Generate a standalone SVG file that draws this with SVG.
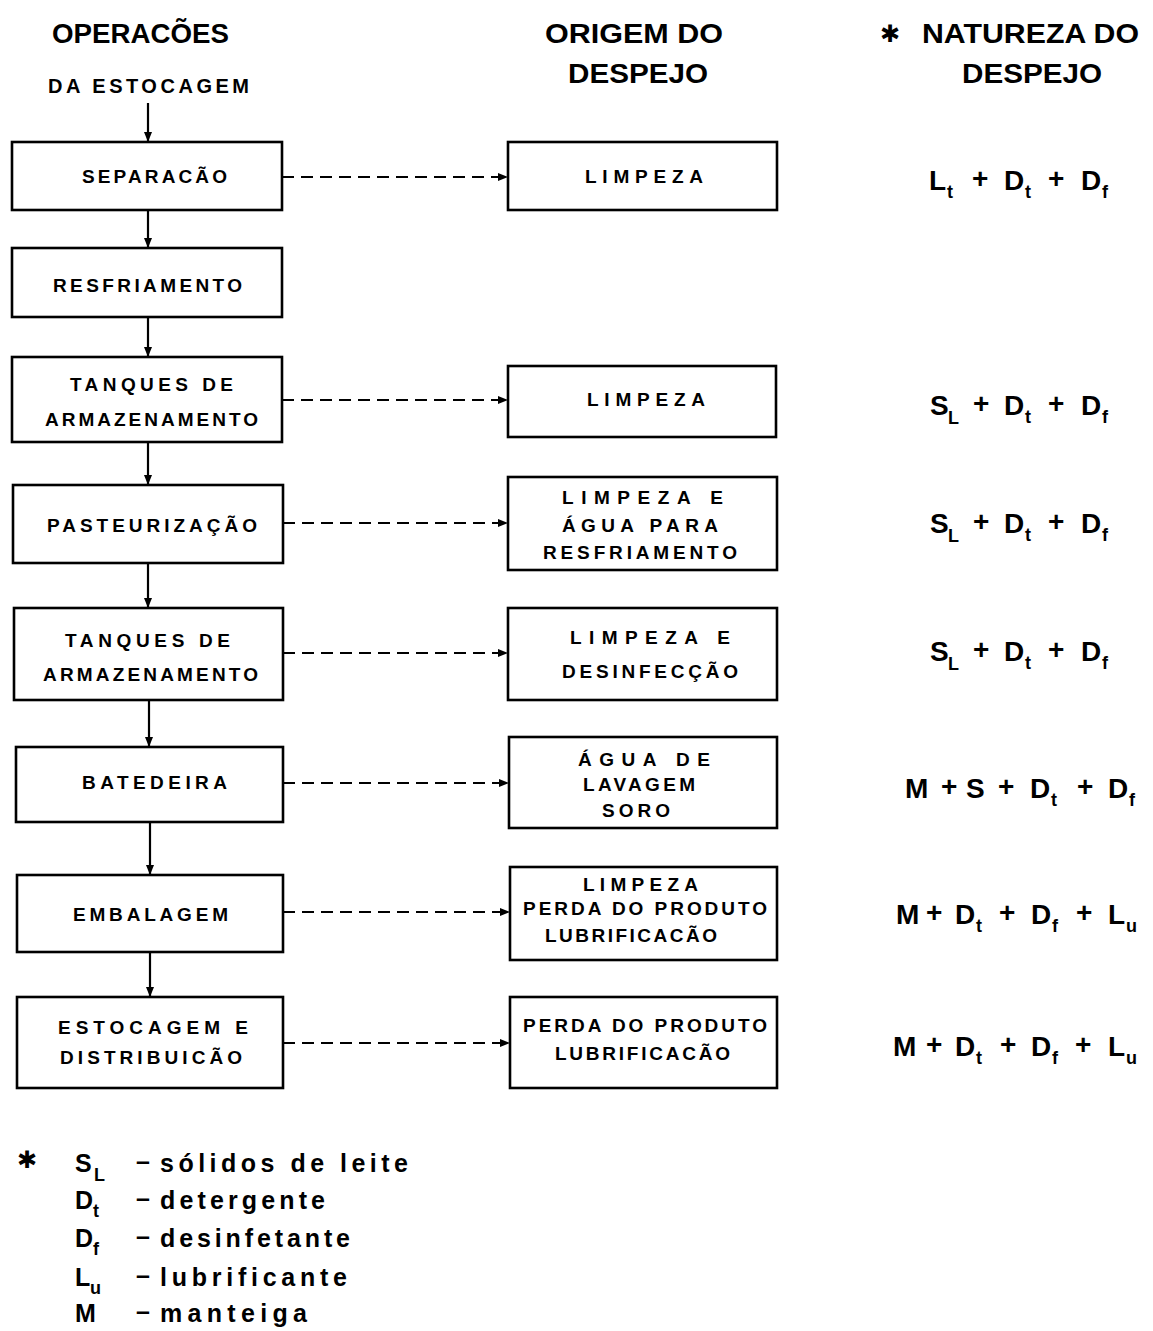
<svg xmlns="http://www.w3.org/2000/svg" width="1153" height="1331" viewBox="0 0 1153 1331">
<defs>
<marker id="ah" markerUnits="userSpaceOnUse" markerWidth="12" markerHeight="10" refX="10" refY="5" orient="auto">
<path d="M0,1 L10,5 L0,9 Z" fill="#000"/>
</marker>
<style>
.box{fill:#fff;stroke:#000;stroke-width:2.6}
.t{font-family:"Liberation Sans",Arial,sans-serif;font-weight:bold;fill:#000}
.h{font-size:27px}
.b{font-size:19px}
.f{font-size:28px}
.s{font-size:18px}
.l{font-size:25px}
.sol{stroke:#000;stroke-width:2.2;fill:none}
.dash{stroke:#000;stroke-width:2;fill:none;stroke-dasharray:12 7}
.star{font-family:"DejaVu Sans",sans-serif;font-weight:bold;fill:#000}
</style>
</defs>
<rect width="1153" height="1331" fill="#fff"/>

<g id="headers">
<text class="t h" x="52" y="43" textLength="177" lengthAdjust="spacingAndGlyphs">OPERACÕES</text>
<text class="t" style="font-size:20px" x="48" y="93" textLength="201" lengthAdjust="spacing">DA ESTOCAGEM</text>
<text class="t h" x="545" y="43" textLength="178" lengthAdjust="spacingAndGlyphs">ORIGEM DO</text>
<text class="t h" x="568" y="83" textLength="140" lengthAdjust="spacingAndGlyphs">DESPEJO</text>
<text class="star" style="font-size:24px" x="880" y="42">✱</text>
<text class="t h" x="922" y="43" textLength="217" lengthAdjust="spacingAndGlyphs">NATUREZA DO</text>
<text class="t h" x="962" y="83" textLength="140" lengthAdjust="spacingAndGlyphs">DESPEJO</text>
</g>

<g id="connectors">
<line class="sol" x1="148" y1="103" x2="148" y2="142" marker-end="url(#ah)"/>
<line class="sol" x1="148" y1="210" x2="148" y2="248" marker-end="url(#ah)"/>
<line class="sol" x1="148" y1="317" x2="148" y2="357" marker-end="url(#ah)"/>
<line class="sol" x1="148" y1="442" x2="148" y2="485" marker-end="url(#ah)"/>
<line class="sol" x1="148" y1="563" x2="148" y2="608" marker-end="url(#ah)"/>
<line class="sol" x1="149" y1="700" x2="149" y2="747" marker-end="url(#ah)"/>
<line class="sol" x1="150" y1="822" x2="150" y2="875" marker-end="url(#ah)"/>
<line class="sol" x1="150" y1="952" x2="150" y2="997" marker-end="url(#ah)"/>
<line class="dash" x1="282" y1="177" x2="508" y2="177" marker-end="url(#ah)"/>
<line class="dash" x1="282" y1="400" x2="508" y2="400" marker-end="url(#ah)"/>
<line class="dash" x1="283" y1="523" x2="508" y2="523" marker-end="url(#ah)"/>
<line class="dash" x1="283" y1="653" x2="508" y2="653" marker-end="url(#ah)"/>
<line class="dash" x1="283" y1="783" x2="509" y2="783" marker-end="url(#ah)"/>
<line class="dash" x1="283" y1="912" x2="510" y2="912" marker-end="url(#ah)"/>
<line class="dash" x1="283" y1="1043" x2="510" y2="1043" marker-end="url(#ah)"/>
</g>

<g id="n-separacao">
<rect class="box" x="12" y="142" width="270" height="68"/>
<text class="t b" x="82" y="183" textLength="145" lengthAdjust="spacing">SEPARACÃO</text>
</g>
<g id="n-resfriamento">
<rect class="box" x="12" y="248" width="270" height="69"/>
<text class="t b" x="53" y="292" textLength="189" lengthAdjust="spacing">RESFRIAMENTO</text>
</g>
<g id="n-tanques1">
<rect class="box" x="12" y="357" width="270" height="85"/>
<text class="t b" x="70" y="391" textLength="163" lengthAdjust="spacing">TANQUES DE</text>
<text class="t b" x="45" y="426" textLength="213" lengthAdjust="spacing">ARMAZENAMENTO</text>
</g>
<g id="n-pasteurizacao">
<rect class="box" x="13" y="485" width="270" height="78"/>
<text class="t b" x="47" y="532" textLength="210" lengthAdjust="spacing">PASTEURIZAÇÃO</text>
</g>
<g id="n-tanques2">
<rect class="box" x="14" y="608" width="269" height="92"/>
<text class="t b" x="65" y="647" textLength="165" lengthAdjust="spacing">TANQUES DE</text>
<text class="t b" x="43" y="681" textLength="215" lengthAdjust="spacing">ARMAZENAMENTO</text>
</g>
<g id="n-batedeira">
<rect class="box" x="16" y="747" width="267" height="75"/>
<text class="t b" x="82" y="789" textLength="145" lengthAdjust="spacing">BATEDEIRA</text>
</g>
<g id="n-embalagem">
<rect class="box" x="17" y="875" width="266" height="77"/>
<text class="t b" x="73" y="921" textLength="155" lengthAdjust="spacing">EMBALAGEM</text>
</g>
<g id="n-estocagem">
<rect class="box" x="17" y="997" width="266" height="91"/>
<text class="t b" x="58" y="1034" textLength="190" lengthAdjust="spacing">ESTOCAGEM E</text>
<text class="t b" x="60" y="1064" textLength="182" lengthAdjust="spacing">DISTRIBUICÃO</text>
</g>

<g id="o-limpeza1">
<rect class="box" x="508" y="142" width="269" height="68"/>
<text class="t b" x="585" y="183" textLength="118" lengthAdjust="spacing">LIMPEZA</text>
</g>
<g id="o-limpeza2">
<rect class="box" x="508" y="366" width="268" height="71"/>
<text class="t b" x="587" y="406" textLength="118" lengthAdjust="spacing">LIMPEZA</text>
</g>
<g id="o-limpeza-agua">
<rect class="box" x="508" y="477" width="269" height="93"/>
<text class="t b" x="562" y="504" textLength="161" lengthAdjust="spacing">LIMPEZA E</text>
<text class="t b" x="562" y="532" textLength="156" lengthAdjust="spacing">ÁGUA PARA</text>
<text class="t b" x="543" y="559" textLength="194" lengthAdjust="spacing">RESFRIAMENTO</text>
</g>
<g id="o-limpeza-desinfeccao">
<rect class="box" x="508" y="608" width="269" height="92"/>
<text class="t b" x="570" y="644" textLength="160" lengthAdjust="spacing">LIMPEZA E</text>
<text class="t b" x="562" y="678" textLength="176" lengthAdjust="spacing">DESINFECÇÃO</text>
</g>
<g id="o-agua-lavagem">
<rect class="box" x="509" y="737" width="268" height="91"/>
<text class="t b" x="578" y="766" textLength="132" lengthAdjust="spacing">ÁGUA DE</text>
<text class="t b" x="583" y="791" textLength="112" lengthAdjust="spacing">LAVAGEM</text>
<text class="t b" x="602" y="817" textLength="68" lengthAdjust="spacing">SORO</text>
</g>
<g id="o-limpeza-perda">
<rect class="box" x="510" y="867" width="267" height="93"/>
<text class="t b" x="583" y="891" textLength="115" lengthAdjust="spacing">LIMPEZA</text>
<text class="t b" x="523" y="915" textLength="244" lengthAdjust="spacing">PERDA DO PRODUTO</text>
<text class="t b" x="545" y="942" textLength="172" lengthAdjust="spacing">LUBRIFICACÃO</text>
</g>
<g id="o-perda">
<rect class="box" x="510" y="997" width="267" height="91"/>
<text class="t b" x="523" y="1032" textLength="244" lengthAdjust="spacing">PERDA DO PRODUTO</text>
<text class="t b" x="555" y="1060" textLength="175" lengthAdjust="spacing">LUBRIFICACÃO</text>
</g>

<g id="natureza">
<text class="t f"><tspan x="929" y="190">L</tspan><tspan class="s" x="947" y="198">t</tspan><tspan x="972" y="188">+</tspan><tspan x="1004" y="190">D</tspan><tspan class="s" x="1025" y="198">t</tspan><tspan x="1048" y="188">+</tspan><tspan x="1081" y="190">D</tspan><tspan class="s" x="1102" y="198">f</tspan></text>
<text class="t f"><tspan x="930" y="415">S</tspan><tspan class="s" x="948" y="424">L</tspan><tspan x="973" y="413">+</tspan><tspan x="1004" y="415">D</tspan><tspan class="s" x="1025" y="423">t</tspan><tspan x="1048" y="413">+</tspan><tspan x="1081" y="415">D</tspan><tspan class="s" x="1102" y="423">f</tspan></text>
<text class="t f"><tspan x="930" y="533">S</tspan><tspan class="s" x="948" y="542">L</tspan><tspan x="973" y="531">+</tspan><tspan x="1004" y="533">D</tspan><tspan class="s" x="1025" y="541">t</tspan><tspan x="1048" y="531">+</tspan><tspan x="1081" y="533">D</tspan><tspan class="s" x="1102" y="541">f</tspan></text>
<text class="t f"><tspan x="930" y="661">S</tspan><tspan class="s" x="948" y="670">L</tspan><tspan x="973" y="659">+</tspan><tspan x="1004" y="661">D</tspan><tspan class="s" x="1025" y="669">t</tspan><tspan x="1048" y="659">+</tspan><tspan x="1081" y="661">D</tspan><tspan class="s" x="1102" y="669">f</tspan></text>
<text class="t f"><tspan x="905" y="798">M</tspan><tspan x="941" y="796">+</tspan><tspan x="966" y="798">S</tspan><tspan x="998" y="796">+</tspan><tspan x="1030" y="798">D</tspan><tspan class="s" x="1051" y="806">t</tspan><tspan x="1077" y="796">+</tspan><tspan x="1108" y="798">D</tspan><tspan class="s" x="1129" y="806">f</tspan></text>
<text class="t f"><tspan x="896" y="924">M</tspan><tspan x="926" y="922">+</tspan><tspan x="955" y="924">D</tspan><tspan class="s" x="976" y="932">t</tspan><tspan x="999" y="922">+</tspan><tspan x="1031" y="924">D</tspan><tspan class="s" x="1052" y="932">f</tspan><tspan x="1076" y="922">+</tspan><tspan x="1108" y="924">L</tspan><tspan class="s" x="1126" y="932">u</tspan></text>
<text class="t f"><tspan x="893" y="1056">M</tspan><tspan x="926" y="1054">+</tspan><tspan x="955" y="1056">D</tspan><tspan class="s" x="976" y="1064">t</tspan><tspan x="1000" y="1054">+</tspan><tspan x="1031" y="1056">D</tspan><tspan class="s" x="1052" y="1064">f</tspan><tspan x="1075" y="1054">+</tspan><tspan x="1108" y="1056">L</tspan><tspan class="s" x="1126" y="1064">u</tspan></text>
</g>

<g id="legenda">
<text class="star" style="font-size:24px" x="17" y="1168">✱</text>
<text class="t l"><tspan x="75" y="1172">S</tspan><tspan class="s" x="94" y="1181">L</tspan></text>
<text class="t l"><tspan x="75" y="1209">D</tspan><tspan class="s" x="93" y="1217">t</tspan></text>
<text class="t l"><tspan x="75" y="1247">D</tspan><tspan class="s" x="93" y="1255">f</tspan></text>
<text class="t l"><tspan x="75" y="1286">L</tspan><tspan class="s" x="90" y="1294">u</tspan></text>
<text class="t l"><tspan x="75" y="1322">M</tspan></text>
<text class="t l" x="136" y="1170">–</text>
<text class="t l" x="136" y="1207">–</text>
<text class="t l" x="136" y="1245">–</text>
<text class="t l" x="136" y="1284">–</text>
<text class="t l" x="136" y="1320">–</text>
<text class="t l" x="160" y="1172" textLength="248" lengthAdjust="spacing">sólidos de leite</text>
<text class="t l" x="160" y="1209" textLength="165" lengthAdjust="spacing">detergente</text>
<text class="t l" x="160" y="1247" textLength="190" lengthAdjust="spacing">desinfetante</text>
<text class="t l" x="160" y="1286" textLength="187" lengthAdjust="spacing">lubrificante</text>
<text class="t l" x="160" y="1322" textLength="147" lengthAdjust="spacing">manteiga</text>
</g>
</svg>
